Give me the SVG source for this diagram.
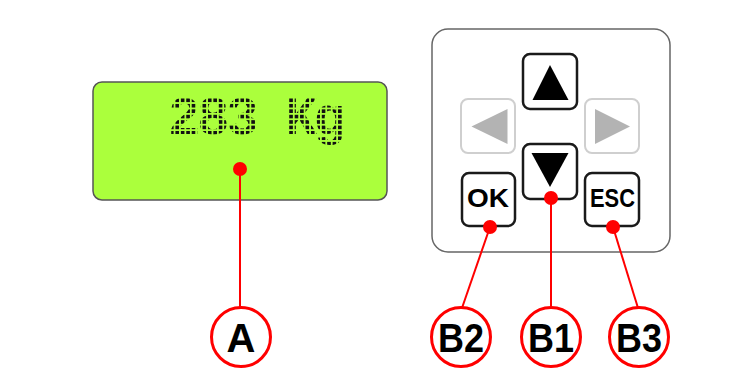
<svg xmlns="http://www.w3.org/2000/svg" width="739" height="389" viewBox="0 0 739 389">
<style>
.key{fill:#fff;stroke:#1a1a1a;stroke-width:2.5}
.keyoff{fill:#fff;stroke:#cfcfcf;stroke-width:2}
.tri{fill:#000}
.trioff{fill:#b3b3b3}
.keytxt{font-family:"Liberation Sans",Arial,sans-serif;font-weight:bold;font-size:26px;fill:#000;text-anchor:middle}
.dot{fill:#ff0000}
.lead{stroke:#ff0000;stroke-width:2;fill:none}
.badge{fill:#fff;stroke:#ff0000;stroke-width:3}
.badgetxt{font-family:"Liberation Sans",Arial,sans-serif;font-weight:bold;font-size:40px;fill:#000;text-anchor:middle}
</style>
<defs>
<pattern id="dm" patternUnits="userSpaceOnUse" x="170" y="98.5" width="5.42" height="5.42">
<rect x="0" y="0" width="3.6" height="3.6" fill="#111"/>
</pattern>
</defs>
<rect width="739" height="389" fill="#fff"/>
<g id="lcd">
<rect x="93" y="82" width="294" height="118" rx="9" fill="#abff3c" stroke="#555" stroke-width="1.5"/>
<text x="168" y="134" font-family="'Liberation Mono','DejaVu Sans Mono',monospace" font-weight="bold" font-size="54" fill="url(#dm)" textLength="178" lengthAdjust="spacing">283 Kg</text>
</g>
<g id="keypad">
<rect x="432" y="29" width="238" height="223" rx="16" fill="#fff" stroke="#666" stroke-width="1.5"/>
</g>
<g id="key-up">
<rect class="key" x="523" y="54" width="54" height="55" rx="7"/>
<polygon class="tri" points="550,65 532.5,100 568.5,100"/>
</g>
<g id="key-down">
<rect class="key" x="523" y="144" width="54" height="55" rx="7"/>
<polygon class="tri" points="531.5,153 568.5,153 550,187"/>
</g>
<g id="key-left">
<rect class="keyoff" x="461" y="99" width="54" height="54" rx="7"/>
<polygon class="trioff" points="471.5,126.5 507.5,109 507.5,144"/>
</g>
<g id="key-right">
<rect class="keyoff" x="585" y="99" width="54" height="54" rx="7"/>
<polygon class="trioff" points="595,109 630,126.5 595,144"/>
</g>
<g id="key-ok">
<rect class="key" x="462" y="173" width="53" height="53" rx="7"/>
<text class="keytxt" x="488" y="207" textLength="42" lengthAdjust="spacingAndGlyphs">OK</text>
</g>
<g id="key-esc">
<rect class="key" x="585" y="173" width="54" height="53" rx="7"/>
<text class="keytxt" x="612.5" y="207" textLength="45" lengthAdjust="spacingAndGlyphs">ESC</text>
</g>
<g id="connectors">
<line class="lead" x1="240" y1="169" x2="240" y2="308"/>
<line class="lead" x1="490" y1="227" x2="462" y2="308"/>
<line class="lead" x1="551" y1="198" x2="551" y2="308"/>
<line class="lead" x1="613" y1="227" x2="638" y2="308"/>
<circle class="dot" cx="240" cy="169" r="7"/>
<circle class="dot" cx="490" cy="227" r="7"/>
<circle class="dot" cx="551" cy="198" r="7"/>
<circle class="dot" cx="613" cy="227" r="7"/>
</g>
<g id="label-A">
<circle class="badge" cx="241" cy="337" r="29.5"/>
<text class="badgetxt" x="241" y="352">A</text>
</g>
<g id="label-B2">
<circle class="badge" cx="461" cy="337" r="29.5"/>
<text class="badgetxt" x="461" y="352" textLength="46" lengthAdjust="spacingAndGlyphs">B2</text>
</g>
<g id="label-B1">
<circle class="badge" cx="551" cy="337" r="29.5"/>
<text class="badgetxt" x="551" y="352" textLength="46" lengthAdjust="spacingAndGlyphs">B1</text>
</g>
<g id="label-B3">
<circle class="badge" cx="639" cy="337" r="29.5"/>
<text class="badgetxt" x="639" y="352" textLength="46" lengthAdjust="spacingAndGlyphs">B3</text>
</g>
</svg>
